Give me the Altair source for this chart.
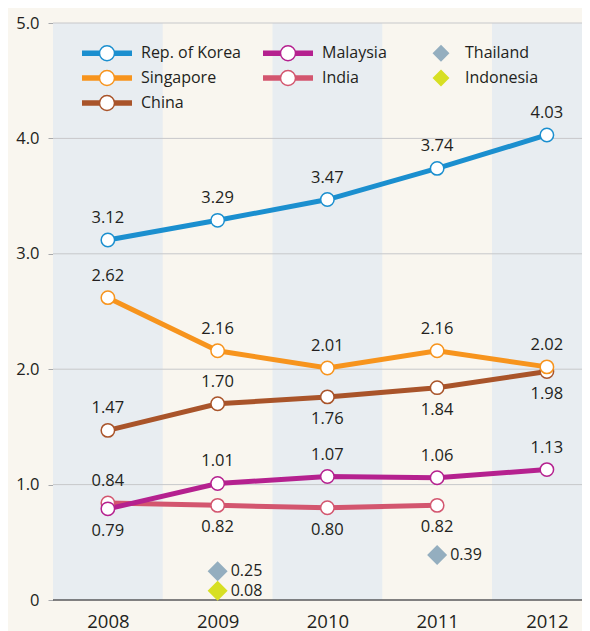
import altair as alt
import pandas as pd

# ---------------- data ----------------
years = [2008, 2009, 2010, 2011, 2012]
korea = [3.12, 3.29, 3.47, 3.74, 4.03]
singapore = [2.62, 2.16, 2.01, 2.16, 2.02]
china = [1.47, 1.70, 1.76, 1.84, 1.98]
malaysia = [0.79, 1.01, 1.07, 1.06, 1.13]
india_years = [2008, 2009, 2010, 2011]
india = [0.84, 0.82, 0.80, 0.82]
thailand_years = [2009, 2011]
thailand = [0.25, 0.39]
indonesia_years = [2009]
indonesia = [0.08]
y_ticks = [0, 1, 2, 3, 4, 5]
band_years = [2008, 2010, 2012]

place = {
    "Rep. of Korea": ["a", "a", "a", "a", "a"],
    "Singapore": ["a", "a", "a", "a", "a"],
    "China": ["a", "a", "b", "b", "b"],
    "India": ["a", "b", "b", "b"],
    "Malaysia": ["b", "a", "a", "a", "a"],
}

FONT = "Open Sans"
TXT = "#231f20"

legend_order = ["Rep. of Korea", "Malaysia", "Thailand", "Singapore", "India", "Indonesia", "China"]
colors = {
    "Rep. of Korea": "#1b8fcf",
    "Singapore": "#f7941d",
    "China": "#a9542a",
    "Malaysia": "#b5218f",
    "India": "#d3566f",
    "Thailand": "#94aebf",
    "Indonesia": "#d7df23",
}
line_series = {
    "Rep. of Korea": (years, korea),
    "Singapore": (years, singapore),
    "China": (years, china),
    "India": (india_years, india),
    "Malaysia": (years, malaysia),
}
diamond_series = {
    "Thailand": (thailand_years, thailand),
    "Indonesia": (indonesia_years, indonesia),
}

rows = []
for name in ["Rep. of Korea", "China", "Singapore", "India", "Malaysia"]:
    ys, vs = line_series[name]
    for y, v, p in zip(ys, vs, place[name]):
        rows.append({"series": name, "year": y, "value": v, "pos": p})
df = pd.DataFrame(rows)
drows = []
for name, (ys, vs) in diamond_series.items():
    for y, v in zip(ys, vs):
        drows.append({"series": name, "year": y, "value": v})
ddf = pd.DataFrame(drows)
alldf = pd.concat([df, ddf], ignore_index=True).fillna("")

xscale = alt.Scale(domain=[2007.5, 2012.32], nice=False, zero=False)
yscale = alt.Scale(domain=[0, 5], nice=False)

# legend symbols (unit = 10 px, symbol centre sits 10.75 px into the entry)
dys = [-0.2, -0.1, 0, 0.1, 0.2]
line_sym = "".join(f"M-1,{d}L0.75,{d}M2.25,{d}L4,{d}" for d in dys) + \
    "M0.75,0A0.75,0.75,0,1,1,2.25,0A0.75,0.75,0,1,1,0.75,0Z"
dia_sym = "M2.5,-0.74L3.24,0L2.5,0.74L1.76,0Z"

stroke_scale = alt.Scale(domain=legend_order, range=[colors[s] for s in legend_order])
fill_scale = alt.Scale(domain=legend_order,
                       range=[colors[s] if s in diamond_series else "white" for s in legend_order])
shape_scale = alt.Scale(domain=legend_order,
                        range=[dia_sym if s in diamond_series else line_sym for s in legend_order])

x_axis = alt.Axis(values=years, format="d", title=None, ticks=False, domain=False,
                  grid=False, labelFontSize=18.5, labelColor=TXT, labelFont=FONT,
                  labelPadding=12)
y_axis = alt.Axis(values=y_ticks, title=None, grid=False, domain=False,
                  tickColor="#a7a9ac", tickSize=5, labelPadding=9,
                  labelFontSize=16.5, labelColor=TXT, labelFont=FONT,
                  labelExpr="datum.value == 0 ? '0' : format(datum.value, '.1f')")

leg = alt.Legend(title=None, orient="none", legendX=28, legendY=19, columns=3,
                 direction="horizontal",
                 symbolSize=400, symbolStrokeWidth=1.5, symbolOpacity=1,
                 labelFontSize=16, labelFont=FONT, labelColor=TXT, labelOffset=38,
                 columnPadding=18, rowPadding=3, labelLimit=300)


def X(f="year"):
    return alt.X(f"{f}:Q", scale=xscale, axis=x_axis)


def Y(f="value"):
    return alt.Y(f"{f}:Q", scale=yscale, axis=y_axis)


def S():
    return alt.Stroke("series:N", scale=stroke_scale, legend=leg)


def F():
    return alt.Fill("series:N", scale=fill_scale, legend=leg)


bands = alt.Chart(pd.DataFrame({"year": band_years})).transform_calculate(
    x0="datum.year - 0.5", x1="datum.year + 0.5", y0="0", y1="5"
).mark_rect(color="#e8edf1", clip=True).encode(
    x=X("x0"), x2="x1:Q", y=Y("y0"), y2="y1:Q",
)

grid = alt.Chart(pd.DataFrame({"value": y_ticks[1:]})).mark_rule(
    color="#c7c8ca", strokeWidth=1).encode(y=Y())

zero = alt.Chart(pd.DataFrame({"value": [0]})).mark_rule(
    color="#58595b", strokeWidth=1.5).encode(y=Y())

line_layers = []
for name in ["Rep. of Korea", "Singapore", "China", "India", "Malaysia"]:
    line_layers.append(
        alt.Chart(df).transform_filter(alt.datum.series == name).mark_line(
            strokeWidth=5).encode(x=X(), y=Y(), stroke=S())
    )

points = alt.Chart(df).mark_circle(size=180, fill="white", strokeWidth=1.5, opacity=1).encode(
    x=X(), y=Y(), stroke=S(),
)

diamonds = alt.Chart(ddf).mark_point(shape="diamond", filled=True, size=400, opacity=1).encode(
    x=X(), y=Y(), fill=F(),
)

lab_above = alt.Chart(df).transform_filter(alt.datum.pos == "a").mark_text(
    dy=-22, fontSize=16.5, font=FONT, color=TXT, baseline="middle").encode(
    x=X(), y=Y(), text=alt.Text("value:Q", format=".2f"))
lab_below = alt.Chart(df).transform_filter(alt.datum.pos == "b").mark_text(
    dy=22, fontSize=16.5, font=FONT, color=TXT, baseline="middle").encode(
    x=X(), y=Y(), text=alt.Text("value:Q", format=".2f"))
lab_dia = alt.Chart(ddf).mark_text(
    dx=13, align="left", fontSize=16, font=FONT, color=TXT, baseline="middle").encode(
    x=X(), y=Y(), text=alt.Text("value:Q", format=".2f"))

legend_layer = alt.Chart(alldf).mark_point(
    filled=True, size=1, strokeWidth=1.5, opacity=0).encode(
    x=X(), y=Y(), stroke=S(), fill=F(),
    shape=alt.Shape("series:N", scale=shape_scale, legend=leg),
)

chart = alt.layer(
    bands, grid, zero, *line_layers, points, diamonds,
    lab_above, lab_below, lab_dia, legend_layer,
).properties(
    width=529, height=577,
    autosize=alt.AutoSizeParams(type="none"),
    padding={"left": 45, "top": 15, "right": 0, "bottom": 31},
    background="#f9f6ef",
).configure_view(stroke=None)

chart.save("out.html", embed_options={"renderer": "svg", "actions": False})
